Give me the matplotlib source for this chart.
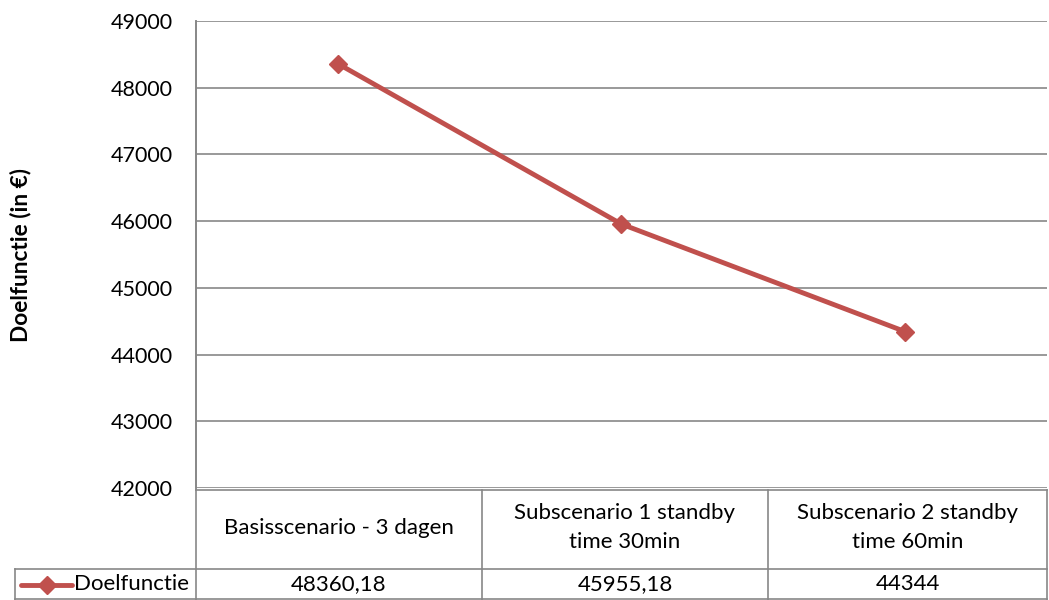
import matplotlib.pyplot as plt
from matplotlib.lines import Line2D

plt.rcParams['font.family'] = ['Lato', 'DejaVu Sans']

categories = ["Basisscenario - 3 dagen",
              "Subscenario 1 standby\ntime 30min",
              "Subscenario 2 standby\ntime 60min"]
values = [48360.18, 45955.18, 44344]
value_labels = ["48360,18", "45955,18", "44344"]
series_name = "Doelfunctie"
y_ticks = [42000, 43000, 44000, 45000, 46000, 47000, 48000, 49000]

W, H = 1049, 600
red = "#C0504D"
grid = "#878787"

fig = plt.figure(figsize=(W / 100, H / 100), dpi=100)

# pixel helpers
def fx(px):
    return px / W

def fy(py):
    return 1 - py / H

left, right, top, bottom = 196, 1047, 21, 488
ax = fig.add_axes([fx(left), fy(bottom), fx(right) - fx(left), fy(top) - fy(bottom)])
x = list(range(len(values)))
ax.plot(x, values, color=red, lw=3.5, marker="D", markersize=9.5, zorder=3, clip_on=False)
ax.set_xlim(-0.5, len(values) - 0.5)
ax.set_ylim(y_ticks[0], y_ticks[-1])
ax.set_yticks(y_ticks)
ax.set_yticklabels([str(t) for t in y_ticks], fontsize=15.5)
ax.tick_params(axis="y", length=0, pad=17)
ax.set_xticks([])
ax.grid(axis="y", color=grid, lw=1.2)
for s in ["top", "right", "bottom"]:
    ax.spines[s].set_visible(False)
ax.spines["left"].set_color(grid)
ax.spines["left"].set_linewidth(1.2)
fig.text(fx(21), fy(255), "Doelfunctie (in \u20ac)", rotation=90,
         ha="center", va="center", fontsize=16.3, fontweight="bold")

# data table under the plot
cols = [196, 482, 768, 1047]
row_top, row_mid, row_bot = 490, 569, 600
lines = [
    ([196, 1047], [row_top, row_top]),
    ([15, 1047], [row_mid, row_mid]),
    ([15, 1047], [row_bot - 1, row_bot - 1]),
    ([15, 15], [row_mid, row_bot]),
]
for c in cols:
    lines.append(([c, c], [row_top, row_bot]))
lines.append(([196, 196], [top, row_top]))
for xs, ys in lines:
    fig.add_artist(Line2D([fx(v) for v in xs], [fy(v) for v in ys], color=grid, lw=1.2))

for i, (cat, lab) in enumerate(zip(categories, value_labels)):
    cx = (cols[i] + cols[i + 1]) / 2
    fig.text(fx(cx), fy((row_top + row_mid) / 2 - 2), cat, ha="center", va="center",
             fontsize=16, linespacing=1.55)
    fig.text(fx(cx), fy((row_mid + row_bot) / 2), lab, ha="center", va="center", fontsize=16)

# legend key in the table row header
ly = fy((row_mid + row_bot) / 2)
fig.add_artist(Line2D([fx(21), fx(72)], [ly, ly], color=red, lw=3.5, solid_capstyle="round"))
fig.add_artist(Line2D([fx(46.5)], [ly], color=red, marker="D", markersize=9.5, lw=0))
fig.text(fx(74), ly, series_name, ha="left", va="center", fontsize=16)

fig.savefig("out.png", dpi=100)
